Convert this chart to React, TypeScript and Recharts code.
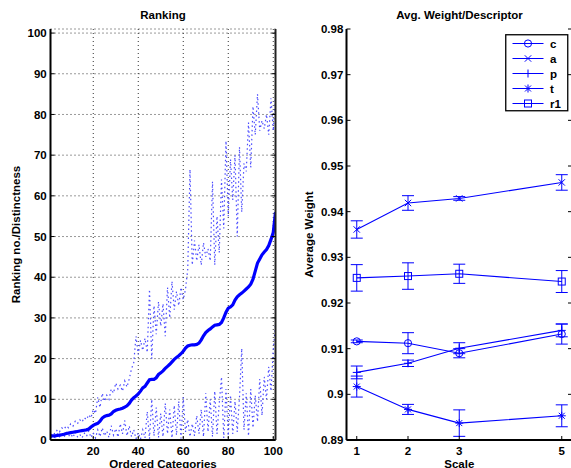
import React from 'react';
import { LineChart, Line, XAxis, YAxis, CartesianGrid, ErrorBar, Legend, Label } from 'recharts';

// ---------- Left chart: Ranking ----------
const categories = Array.from({ length: 101 }, (_, i) => i + 1);

const rankingMean = [
  1.0, 1.0, 1.0, 1.1, 1.2, 1.3, 1.4, 1.6, 1.7, 1.8,
  1.9, 2.0, 2.1, 2.2, 2.3, 2.4, 2.5, 2.7, 3.2, 3.6,
  3.9, 4.1, 4.6, 5.4, 5.8, 6.0, 6.1, 6.4, 7.0, 7.3,
  7.5, 7.6, 7.8, 8.1, 8.4, 9.0, 9.8, 10.4, 10.8, 11.3,
  12.0, 12.8, 13.2, 14.0, 14.8, 14.9, 14.9, 15.3, 16.1, 16.5,
  17.0, 17.6, 18.1, 18.6, 19.2, 19.8, 20.3, 20.7, 21.2, 21.8,
  22.6, 23.1, 23.3, 23.4, 23.4, 23.5, 23.8, 24.6, 25.6, 26.4,
  26.9, 27.3, 27.8, 28.2, 28.3, 28.4, 28.9, 30.0, 31.4, 32.4,
  32.7, 33.2, 34.4, 35.2, 35.7, 36.1, 36.6, 37.1, 37.6, 38.3,
  39.5, 41.5, 43.5, 44.5, 45.5, 46.2, 46.8, 47.8, 49.3, 51.0, 56.0,
];

const rankingUpper = [
  1.2, 1.8, 1.5, 2.5, 2.0, 3.0, 2.6, 3.5, 3.0, 4.0,
  3.4, 4.6, 4.0, 5.0, 4.4, 5.5, 5.0, 6.2, 5.4, 7.5,
  6.5, 10.5, 8.0, 11.5, 9.5, 11.0, 10.0, 12.5, 11.5, 14.0,
  12.5, 13.5, 12.0, 14.5, 13.0, 15.0, 17.5, 19.0, 25.5, 21.0,
  24.5, 22.0, 25.0, 21.5, 37.0, 20.0, 33.0, 26.0, 34.0, 28.0,
  33.5, 25.5, 37.5, 30.0, 39.0, 32.0, 36.5, 33.0, 37.5, 34.5,
  37.0, 42.0, 66.5, 43.0, 49.0, 44.0, 48.0, 43.0, 48.5, 45.0,
  47.0, 44.0, 63.5, 43.0, 55.0, 46.0, 64.0, 52.0, 73.5, 55.0,
  69.0, 59.0, 70.0, 50.0, 72.0, 56.0, 68.0, 66.0, 78.0, 67.0,
  82.0, 75.0, 85.0, 76.0, 78.5, 76.5, 80.0, 75.0, 84.0, 76.0, 84.5,
];

const rankingLower = [
  0.5, 1.0, 0.6, 1.5, 0.8, 1.6, 0.7, 1.8, 0.9, 1.5,
  0.6, 2.0, 0.8, 1.4, 0.5, 1.7, 0.9, 2.2, 0.6, 1.8,
  0.5, 2.5, 0.8, 3.0, 1.0, 2.2, 0.6, 3.5, 1.2, 2.8,
  0.7, 4.0, 1.5, 4.8, 1.0, 3.5, 0.8, 2.5, 0.3, 1.8,
  0.2, 2.5, 0.5, 7.0, 0.3, 10.0, 1.0, 8.0, 0.6, 6.5,
  0.8, 9.0, 1.5, 7.5, 0.5, 8.5, 1.2, 9.5, 0.4, 10.5,
  2.0, 5.0, 0.8, 4.0, 1.0, 6.0, 1.5, 7.5, 0.8, 11.5,
  2.0, 10.0, 0.8, 12.0, 1.5, 9.0, 15.5, 0.5, 12.5, 1.0,
  11.0, 1.5, 9.5, 2.0, 10.5, 22.5, 2.5, 11.5, 1.0, 12.5,
  3.0, 11.0, 4.5, 15.0, 6.0, 15.5, 10.0, 18.0, 12.0, 22.0, 28.5,
];

const rankingXTicks = [20, 40, 60, 80, 100];
const rankingYTicks = [0, 10, 20, 30, 40, 50, 60, 70, 80, 90, 100];

// ---------- Right chart: Avg. Weight/Descriptor ----------
const scales = [1, 2, 3, 5];
const cMean = [0.9116, 0.9112, 0.909, 0.9132];
const cErr = [0.0003, 0.0023, 0.001, 0.0022];
const aMean = [0.9361, 0.9419, 0.9429, 0.9464];
const aErr = [0.0019, 0.0016, 0.0004, 0.0017];
const pMean = [0.9048, 0.9068, 0.9101, 0.914];
const pErr = [0.0014, 0.0007, 0.0012, 0.0014];
const tMean = [0.9017, 0.8967, 0.8937, 0.8953];
const tErr = [0.0023, 0.0011, 0.0029, 0.0024];
const r1Mean = [0.9255, 0.9259, 0.9264, 0.9247];
const r1Err = [0.0029, 0.0029, 0.0021, 0.0024];
const weightYTicks = [0.89, 0.9, 0.91, 0.92, 0.93, 0.94, 0.95, 0.96, 0.97, 0.98];
const seriesNames = ['c', 'a', 'p', 't', 'r1'];
const seriesShapes = ['circle', 'x', 'plus', 'star', 'square'];

const rankingData = categories.map((x, i) => ({
  x,
  mean: rankingMean[i],
  upper: rankingUpper[i],
  lower: rankingLower[i],
}));

const weightData = scales.map((s, i) => ({
  scale: s,
  c: cMean[i], cErr: cErr[i],
  a: aMean[i], aErr: aErr[i],
  p: pMean[i], pErr: pErr[i],
  t: tMean[i], tErr: tErr[i],
  r1: r1Mean[i], r1Err: r1Err[i],
}));

const BLUE = '#0000ff';
const FONT = '"Liberation Sans", Arial, Helvetica, sans-serif';
const tickStyle = { fontSize: 11.5, fontWeight: 700, fill: '#000', fontFamily: FONT };
const textStyle: any = { fontSize: 11.5, fontWeight: 700, fill: '#000', fontFamily: FONT };

function Marker({ shape, cx, cy }: { shape: string; cx: number; cy: number }) {
  const s = 3.2;
  const common = { stroke: BLUE, strokeWidth: 1, fill: 'none' };
  switch (shape) {
    case 'circle':
      return <circle cx={cx} cy={cy} r={3.6} {...common} />;
    case 'x':
      return <path d={`M${cx - s},${cy - s}L${cx + s},${cy + s}M${cx - s},${cy + s}L${cx + s},${cy - s}`} {...common} />;
    case 'plus':
      return <path d={`M${cx - 4},${cy}L${cx + 4},${cy}M${cx},${cy - 4}L${cx},${cy + 4}`} {...common} />;
    case 'star':
      return (
        <path
          d={`M${cx - 4},${cy}L${cx + 4},${cy}M${cx},${cy - 4}L${cx},${cy + 4}M${cx - 3},${cy - 3}L${cx + 3},${cy + 3}M${cx - 3},${cy + 3}L${cx + 3},${cy - 3}`}
          {...common}
        />
      );
    case 'square':
    default:
      return <rect x={cx - 3.5} y={cy - 3.5} width={7} height={7} {...common} />;
  }
}

const makeDot = (shape: string) => (props: any) => (
  <Marker key={`${shape}-${props.index}`} shape={shape} cx={props.cx} cy={props.cy} />
);

const LegendBox = () => (
  <svg width={64} height={78} style={{ display: 'block' }}>
    <rect x={0.75} y={0.75} width={62} height={76} fill="#fff" stroke="#000" strokeWidth={1.3} />
    {seriesNames.map((n, i) => {
      const cy = 9.5 + i * 15;
      return (
        <g key={n}>
          <line x1={7.5} x2={38.5} y1={cy} y2={cy} stroke={BLUE} strokeWidth={1} />
          <Marker shape={seriesShapes[i]} cx={23} cy={cy} />
          <text x={45} y={cy + 4.2} style={textStyle}>{n}</text>
        </g>
      );
    })}
  </svg>
);

const rotatedLabel = (text: string, dx: number) => (props: any) => {
  const vb = props.viewBox || {};
  const x = vb.x + dx;
  const y = vb.y + vb.height / 2;
  return (
    <text x={x} y={y} transform={`rotate(-90, ${x}, ${y})`} textAnchor="middle" style={textStyle}>
      {text}
    </text>
  );
};

const bottomLabel = (text: string) => (props: any) => {
  const vb = props.viewBox || {};
  return (
    <text x={vb.x + vb.width / 2} y={vb.y + vb.height - 0.5} textAnchor="middle" style={textStyle}>
      {text}
    </text>
  );
};

const titleStyle: React.CSSProperties = {
  position: 'absolute',
  top: 9,
  fontFamily: FONT,
  fontWeight: 700,
  fontSize: 11.5,
  lineHeight: '12px',
  textAlign: 'center',
  color: '#000',
  whiteSpace: 'nowrap',
};

const blank = () => '';

export default function App() {
  return (
    <div
      style={{
        position: 'fixed',
        left: 0,
        top: 0,
        width: 571,
        height: 468,
        overflow: 'hidden',
        background: '#fff',
      }}
    >
      <div style={{ ...titleStyle, left: 0, width: 326 }}>Ranking</div>
      <div style={{ ...titleStyle, left: 347, width: 225 }}>Avg. Weight/Descriptor</div>

      <div style={{ position: 'absolute', left: 0, top: 0 }}>
        <LineChart width={290} height={468} data={rankingData} margin={{ top: 29, right: 0, bottom: 0, left: 0 }}>
          <CartesianGrid xAxisId="b" yAxisId="l" stroke="#333" strokeDasharray="1 3" />
          <XAxis
            xAxisId="b"
            dataKey="x"
            type="number"
            domain={[1, 101]}
            allowDataOverflow
            ticks={rankingXTicks}
            height={28}
            tickSize={-4}
            tickMargin={10.5}
            tick={tickStyle}
            axisLine={{ stroke: '#000', strokeWidth: 2 }}
            tickLine={{ stroke: '#000' }}
          >
            <Label content={bottomLabel('Ordered Categories')} />
          </XAxis>
          <YAxis
            yAxisId="l"
            type="number"
            domain={[0, 101]}
            allowDataOverflow
            ticks={rankingYTicks}
            width={50.5}
            tickSize={-4}
            tickMargin={7.8}
            tick={tickStyle}
            axisLine={{ stroke: '#000', strokeWidth: 2 }}
            tickLine={{ stroke: '#000' }}
          >
            <Label content={rotatedLabel('Ranking no./Distinctness', 20)} />
          </YAxis>
          <YAxis
            yAxisId="r"
            orientation="right"
            type="number"
            domain={[0, 101]}
            allowDataOverflow
            ticks={rankingYTicks}
            width={14.5}
            tickSize={-4}
            tickFormatter={blank}
            axisLine={{ stroke: '#222', strokeWidth: 2 }}
            tickLine={{ stroke: '#000' }}
          />
          <Line
            xAxisId="b"
            yAxisId="l"
            dataKey="upper"
            type="linear"
            stroke="#4a4aff"
            strokeWidth={1.2}
            strokeDasharray="1.5 3"
            dot={false}
            activeDot={false}
            isAnimationActive={false}
          />
          <Line
            xAxisId="b"
            yAxisId="l"
            dataKey="lower"
            type="linear"
            stroke="#4a4aff"
            strokeWidth={1.2}
            strokeDasharray="1.5 3"
            dot={false}
            activeDot={false}
            isAnimationActive={false}
          />
          <Line
            xAxisId="b"
            yAxisId="l"
            dataKey="mean"
            type="linear"
            stroke={BLUE}
            strokeWidth={3.2}
            dot={false}
            activeDot={false}
            isAnimationActive={false}
          />
        </LineChart>
      </div>

      <div style={{ position: 'absolute', left: 290, top: 0 }}>
        <LineChart width={290} height={468} data={weightData} margin={{ top: 29, right: 0, bottom: 0, left: 0 }}>
          <XAxis
            xAxisId="b"
            dataKey="scale"
            type="number"
            domain={[0.8, 5.2]}
            allowDataOverflow
            ticks={scales}
            height={28}
            tickSize={-4}
            tickMargin={10.5}
            tick={tickStyle}
            axisLine={{ stroke: '#000', strokeWidth: 2 }}
            tickLine={{ stroke: '#000' }}
          >
            <Label content={bottomLabel('Scale')} />
          </XAxis>
          <XAxis
            xAxisId="t"
            orientation="top"
            dataKey="scale"
            type="number"
            domain={[0.8, 5.2]}
            allowDataOverflow
            ticks={scales}
            height={0}
            tickSize={-4}
            tickFormatter={blank}
            axisLine={false}
            tickLine={{ stroke: '#000' }}
          />
          <YAxis
            yAxisId="l"
            type="number"
            domain={[0.89, 0.98]}
            allowDataOverflow
            ticks={weightYTicks}
            width={56.5}
            tickSize={-4}
            tickMargin={7.2}
            tick={tickStyle}
            tickFormatter={(v: number) => String(Math.round(v * 100) / 100)}
            axisLine={{ stroke: '#000', strokeWidth: 2 }}
            tickLine={{ stroke: '#000' }}
          >
            <Label content={rotatedLabel('Average Weight', 23.3)} />
          </YAxis>
          <YAxis
            yAxisId="r"
            orientation="right"
            type="number"
            domain={[0.89, 0.98]}
            allowDataOverflow
            ticks={weightYTicks}
            width={8}
            tickSize={-4}
            tickFormatter={blank}
            axisLine={{ stroke: '#000', strokeWidth: 2 }}
            tickLine={{ stroke: '#000' }}
          />
          <Legend
            layout="vertical"
            align="center"
            verticalAlign="middle"
            content={() => <LegendBox />}
            wrapperStyle={{ position: 'absolute', left: 215, top: 34, width: 64, height: 78 }}
          />
          {seriesNames.map((n, i) => (
            <Line
              key={n}
              xAxisId="b"
              yAxisId="l"
              dataKey={n}
              name={n}
              type="linear"
              stroke={BLUE}
              strokeWidth={1.1}
              dot={makeDot(seriesShapes[i])}
              activeDot={false}
              isAnimationActive={false}
            >
              <ErrorBar dataKey={`${n}Err`} direction="y" width={6} stroke={BLUE} strokeWidth={1} />
            </Line>
          ))}
        </LineChart>
      </div>
    </div>
  );
}
